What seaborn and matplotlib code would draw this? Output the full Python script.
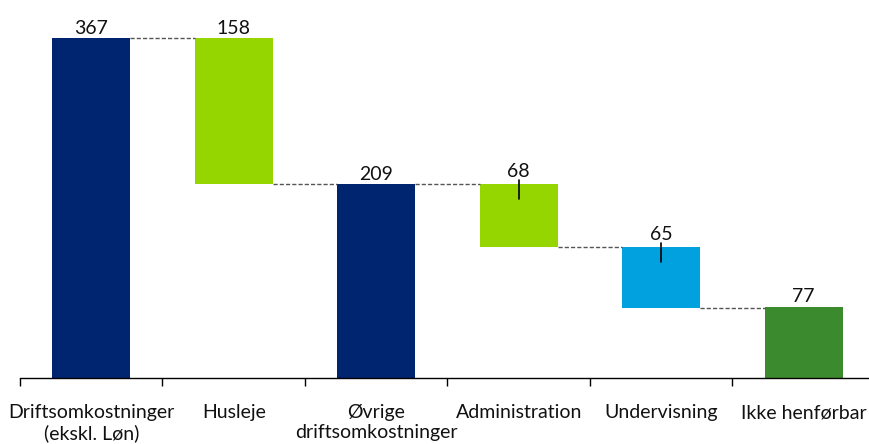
import numpy as np
import pandas as pd
import seaborn as sns
import matplotlib.pyplot as plt

categories = ['Driftsomkostninger\n(ekskl. Løn)', 'Husleje', 'Øvrige\ndriftsomkostninger',
              'Administration', 'Undervisning', 'Ikke henførbar']
values = [367, 158, 209, 68, 65, 77]
kinds = ['total', 'minus', 'total', 'minus', 'minus', 'total']
colors = ['#002570', '#95D600', '#002570', '#95D600', '#00A1DE', '#3C8A2E']

# Work out floating bar bottoms / tops
bottoms, tops = [], []
level = 0
for v, k in zip(values, kinds):
    if k == 'total':
        bottoms.append(0)
        tops.append(v)
        level = v
    else:
        tops.append(level)
        level = level - v
        bottoms.append(level)
bottoms = np.array(bottoms)
tops = np.array(tops)

df = pd.DataFrame({'cat': categories, 'height': tops - bottoms})

sns.set_theme(style='white')
plt.rcParams['font.family'] = ['Lato', 'DejaVu Sans']

fig = plt.figure(figsize=(8.69, 4.44), dpi=100)
ax = fig.add_axes([20 / 869, 66 / 444, 855 / 869, 378 / 444])

sns.barplot(data=df, x='cat', y='height', bottom=bottoms, color='#002570',
            width=0.55, errorbar=None, ax=ax, linewidth=0)
for patch, c in zip(ax.patches, colors):
    patch.set_facecolor(c)

ax.set_xlim(-0.5, len(categories) - 0.5)
ax.set_ylim(0, 408)

# dashed connectors between bars
half = 0.55 / 2
for i in range(len(values) - 1):
    y = tops[i] if kinds[i] == 'total' else bottoms[i]
    ax.plot([i + half, i + 1 - half], [y, y], color='#555555', lw=1,
            ls=(0, (3, 1.5)), zorder=3)

# value labels (with small leader lines for the two smaller steps)
for i, v in enumerate(values):
    if i in (3, 4):
        ax.plot([i, i], [tops[i] - 16, tops[i] + 5], color='black', lw=1.2, zorder=4)
        ax.text(i, tops[i] + 5, str(v), ha='center', va='bottom', fontsize=14, color='#111111')
    else:
        ax.text(i, tops[i] + 1.5, str(v), ha='center', va='bottom', fontsize=14, color='#111111')

# axes styling
for s in ['left', 'right', 'top']:
    ax.spines[s].set_visible(False)
ax.spines['bottom'].set_color('black')
ax.spines['bottom'].set_linewidth(1)
ax.set_yticks([])
ax.set_xlabel('')
ax.set_ylabel('')
ax.set_xticks(range(len(categories)))
ax.set_xticklabels(categories, fontsize=14, color='#111111', linespacing=1.2)
ax.set_xticks(np.arange(-0.5, len(categories)), minor=True)
ax.tick_params(axis='x', which='major', length=0, pad=19)
ax.tick_params(axis='x', which='minor', length=6, width=1, color='black', bottom=True,
               direction='out')

fig.savefig('out.png', dpi=100)
